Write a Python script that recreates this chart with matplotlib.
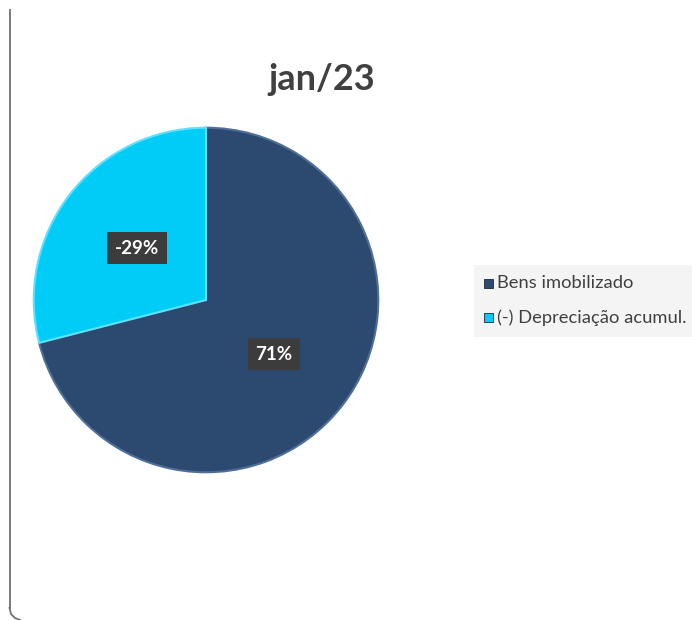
import matplotlib; matplotlib.use("Agg")
import matplotlib.pyplot as plt
from matplotlib.patches import Rectangle

TITLE      = "jan/23"
CATEGORIES = ["Bens imobilizado", "(-) Depreciação acumul."]
VALUES     = [71, -29]
COLORS     = ["#2c4a70", "#00ccf8"]
EDGES      = ["#4f6f98", "#5fe0ff"]

plt.rcParams["font.family"] = ["Lato", "DejaVu Sans"]

W, H = 692, 620
fig = plt.figure(figsize=(W / 100, H / 100), dpi=100)

# frame: only left edge with rounded bottom corner is visible
frame = fig.add_axes([0, 0, 1, 1])
frame.set_xlim(0, W); frame.set_ylim(H, 0); frame.axis("off")
frame.plot([9.5, 9.5], [10, 608], color="#707070", lw=1.3)
frame.plot([9.5, 11, 15, 20], [608, 614, 618, 620], color="#707070", lw=1.3)

fig.text(322 / W, 1 - 80 / H, TITLE, ha="center", va="center",
         fontsize=26, fontweight="bold", color="#404040")

# pie
cx, cy, r = 206, 300, 174
ax = fig.add_axes([(cx - r) / W, (H - cy - r) / H, 2 * r / W, 2 * r / H])
shares = [abs(v) for v in VALUES]
wedges, _ = ax.pie(shares, colors=COLORS, startangle=90, counterclock=False,
                   radius=1.0, wedgeprops=dict(linewidth=1.5))
for w, ec in zip(wedges, EDGES):
    w.set_edgecolor(ec)
ax.set_xlim(-1.01, 1.01); ax.set_ylim(-1.01, 1.01)
ax.set_aspect("equal")

# data labels
label_pos = [(274, 354), (137, 248)]
for v, (lx, ly) in zip(VALUES, label_pos):
    fig.text(lx / W, 1 - ly / H, f"{v}%", ha="center", va="center",
             fontsize=13.5, fontweight="bold", color="white",
             bbox=dict(boxstyle="square,pad=0.4", fc="#3c3c3c", ec="none"))

# legend
leg = fig.add_axes([474 / W, 1 - 337 / H, (W - 474) / W, 72 / H])
leg.set_xlim(474, W); leg.set_ylim(337, 265)
leg.axis("off")
leg.add_patch(Rectangle((474, 265), W - 474, 72, fc="#f4f4f4", ec="none"))
for i, (name, c) in enumerate(zip(CATEGORIES, COLORS)):
    y = 283 + i * 35
    leg.add_patch(Rectangle((484, y - 4.5), 9, 9, fc=c, ec="#1a2a40", lw=0.6))
    leg.text(497, y, name, ha="left", va="center", fontsize=13.2, color="#404040")

fig.savefig("out.png", dpi=100, facecolor="white")
